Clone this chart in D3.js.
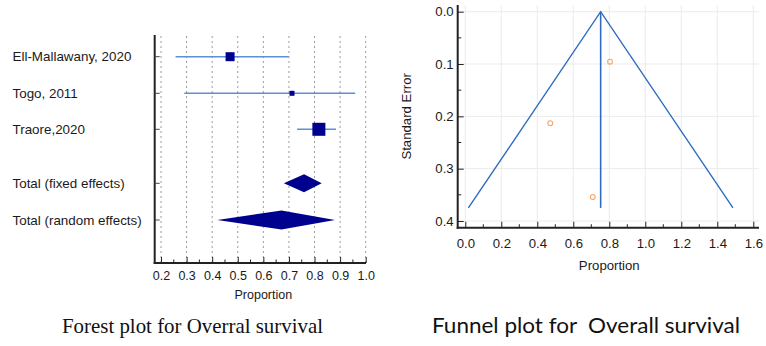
<!DOCTYPE html>
<html><head><meta charset="utf-8">
<script src="https://cdn.jsdelivr.net/npm/d3@7"></script>
<style>body{margin:0;background:#fff}svg{display:block}</style>
</head><body>
<script>
// Forest plot data
const studies = ["Ell-Mallawany, 2020", "Togo, 2011", "Traore,2020", "Total (fixed effects)", "Total (random effects)"];
const estimates = [0.47, 0.712, 0.817, 0.759, 0.671];
const lowerCI = [0.257, 0.291, 0.732, 0.680, 0.420];
const upperCI = [0.699, 0.959, 0.884, 0.828, 0.880];
const weights = [9, 5, 13, 0, 0];          // marker size (relative weight)
const isPooled = [false, false, false, true, true];
const forestTicks = [0.2, 0.3, 0.4, 0.5, 0.6, 0.7, 0.8, 0.9, 1.0];

// Funnel plot data
const funnelProp = [0.804, 0.472, 0.708];
const funnelSE = [0.0956, 0.213, 0.354];
const pooledProp = 0.752;
const maxSE = 0.375;
const funnelXTicks = [0.0, 0.2, 0.4, 0.6, 0.8, 1.0, 1.2, 1.4, 1.6];
const funnelYTicks = [0.0, 0.1, 0.2, 0.3, 0.4];

const W = 766, H = 346;
const svg = d3.select("body").append("svg").attr("width", W).attr("height", H)
  .style("font-family", "Liberation Sans, Arial, sans-serif");

// ---------------- Forest plot ----------------
const fx = d3.scaleLinear().domain([0.2, 1.0]).range([161, 365.7]);
const fyPos = [56.7, 93.3, 129.3, 183.3, 220];
const fy = d3.scaleOrdinal().domain(studies).range(fyPos);
const fTop = 35, fBottom = 263, fLeft = 154.7, fRight = 366;

const fg = svg.append("g");
// dotted gridlines
fg.selectAll("line.grid").data(forestTicks).enter().append("line")
  .attr("x1", d => fx(d)).attr("x2", d => fx(d))
  .attr("y1", fTop + 1).attr("y2", fBottom)
  .attr("stroke", "#9a9a9a").attr("stroke-width", 1).attr("stroke-dasharray", "2,3");

// axes lines
fg.append("line").attr("x1", fLeft).attr("x2", fLeft).attr("y1", fTop).attr("y2", fBottom + 1)
  .attr("stroke", "#222").attr("stroke-width", 2);
fg.append("line").attr("x1", fLeft - 1).attr("x2", fRight).attr("y1", fBottom).attr("y2", fBottom)
  .attr("stroke", "#222").attr("stroke-width", 2);

// x ticks
const fxAxis = d3.axisBottom(fx).tickValues(forestTicks).tickFormat(d3.format(".1f")).tickSize(-6).tickSizeOuter(0);
const fxa = fg.append("g").attr("transform", `translate(0,${fBottom})`).call(fxAxis);
fxa.select(".domain").remove();
fxa.selectAll(".tick line").attr("stroke", "#222");
fxa.selectAll(".tick text").attr("y", 8).attr("font-size", 12.5).attr("fill", "#1a1a1a")
  .attr("font-family", "Liberation Sans, Arial, sans-serif");
// minor ticks
const fMinor = d3.range(0.25, 1.0, 0.1);
fg.selectAll("line.minor").data(fMinor).enter().append("line")
  .attr("x1", d => fx(d)).attr("x2", d => fx(d)).attr("y1", fBottom).attr("y2", fBottom - 3.5)
  .attr("stroke", "#222");

// y ticks (rows)
fg.selectAll("line.ytick").data(studies).enter().append("line")
  .attr("x1", fLeft).attr("x2", fLeft + 5).attr("y1", d => fy(d)).attr("y2", d => fy(d))
  .attr("stroke", "#444");

// labels
fg.selectAll("text.lab").data(studies).enter().append("text")
  .attr("x", 12.5).attr("y", d => fy(d)).attr("dy", "0.35em")
  .attr("font-size", 13.4).attr("fill", "#1a1a1a").text(d => d);

// CI lines and squares
studies.forEach((s, i) => {
  const y = fy(s);
  if (!isPooled[i]) {
    fg.append("line").attr("x1", fx(lowerCI[i])).attr("x2", fx(upperCI[i]))
      .attr("y1", y).attr("y2", y).attr("stroke", "#5b8fd6").attr("stroke-width", 1.6);
    const sz = weights[i];
    fg.append("rect").attr("x", fx(estimates[i]) - sz / 2).attr("y", y - sz / 2)
      .attr("width", sz).attr("height", sz).attr("fill", "#00008f");
  } else {
    const h = i === 3 ? 9 : 9.5;
    const pts = [[fx(lowerCI[i]), y], [fx(estimates[i]), y - h], [fx(upperCI[i]), y], [fx(estimates[i]), y + h]];
    fg.append("path").attr("d", d3.line()(pts) + "Z").attr("fill", "#00008f");
  }
});

fg.append("text").attr("x", (fx(0.2) + fx(1.0)) / 2).attr("y", 299)
  .attr("text-anchor", "middle").attr("font-size", 12.5).attr("fill", "#1a1a1a").text("Proportion");

// ---------------- Funnel plot ----------------
const ux = d3.scaleLinear().domain([0, 1.6]).range([465.3, 753.3]);
const uy = d3.scaleLinear().domain([0, 0.4]).range([11.7, 221]);
const uLeft = 457.7, uRight = 759, uTop = 5, uBottom = 227.7;
const ug = svg.append("g");

// gridlines
ug.selectAll("line.vg").data(funnelXTicks).enter().append("line")
  .attr("x1", d => ux(d)).attr("x2", d => ux(d)).attr("y1", uTop).attr("y2", uBottom)
  .attr("stroke", "#ebebeb");
ug.selectAll("line.hg").data(funnelYTicks).enter().append("line")
  .attr("x1", uLeft).attr("x2", uRight).attr("y1", d => uy(d)).attr("y2", d => uy(d))
  .attr("stroke", "#ebebeb");

// axes
ug.append("line").attr("x1", uLeft).attr("x2", uLeft).attr("y1", uTop).attr("y2", uBottom + 1)
  .attr("stroke", "#222").attr("stroke-width", 2);
ug.append("line").attr("x1", uLeft - 1).attr("x2", uRight).attr("y1", uBottom).attr("y2", uBottom)
  .attr("stroke", "#222").attr("stroke-width", 2);

const uxAxis = d3.axisBottom(ux).tickValues(funnelXTicks).tickFormat(d3.format(".1f")).tickSize(-6).tickSizeOuter(0);
const uxa = ug.append("g").attr("transform", `translate(0,${uBottom})`).call(uxAxis);
uxa.select(".domain").remove();
uxa.selectAll(".tick line").attr("stroke", "#222");
uxa.selectAll(".tick text").attr("y", 11).attr("font-size", 13.2).attr("fill", "#1a1a1a")
  .attr("font-family", "Liberation Sans, Arial, sans-serif");
ug.selectAll("line.xminor").data(d3.range(0.1, 1.6, 0.2)).enter().append("line")
  .attr("x1", d => ux(d)).attr("x2", d => ux(d)).attr("y1", uBottom).attr("y2", uBottom - 3.5)
  .attr("stroke", "#222");

const uyAxis = d3.axisLeft(uy).tickValues(funnelYTicks).tickFormat(d3.format(".1f")).tickSize(-6).tickSizeOuter(0);
const uya = ug.append("g").attr("transform", `translate(${uLeft},0)`).call(uyAxis);
uya.select(".domain").remove();
uya.selectAll(".tick line").attr("stroke", "#222");
uya.selectAll(".tick text").attr("x", -4).attr("font-size", 13.2).attr("fill", "#1a1a1a")
  .attr("font-family", "Liberation Sans, Arial, sans-serif");
ug.selectAll("line.yminor").data([0.05, 0.15, 0.25, 0.35]).enter().append("line")
  .attr("x1", uLeft).attr("x2", uLeft + 3.5).attr("y1", d => uy(d)).attr("y2", d => uy(d))
  .attr("stroke", "#222");

// funnel lines
const lineCol = "#2f6cc0";
const funnel = [[pooledProp - 1.96 * maxSE, maxSE], [pooledProp, 0], [pooledProp + 1.96 * maxSE, maxSE]];
ug.append("path").attr("d", d3.line().x(d => ux(d[0])).y(d => uy(d[1]))(funnel))
  .attr("fill", "none").attr("stroke", lineCol).attr("stroke-width", 1.4);
ug.append("line").attr("x1", ux(pooledProp)).attr("x2", ux(pooledProp))
  .attr("y1", uy(0)).attr("y2", uy(maxSE)).attr("stroke", lineCol).attr("stroke-width", 1.6);

// points
ug.selectAll("circle").data(funnelProp).enter().append("circle")
  .attr("cx", d => ux(d)).attr("cy", (d, i) => uy(funnelSE[i])).attr("r", 2.4)
  .attr("fill", "none").attr("stroke", "#f4a46b").attr("stroke-width", 1.1);

ug.append("text").attr("x", ux(0.8)).attr("y", 270).attr("text-anchor", "middle")
  .attr("font-size", 13.2).attr("fill", "#1a1a1a").text("Proportion");
ug.append("text").attr("transform", `translate(411,${uy(0.2)}) rotate(-90)`)
  .attr("text-anchor", "middle").attr("font-size", 13.2).attr("fill", "#1a1a1a").text("Standard Error");

// captions
svg.append("text").attr("x", 62).attr("y", 333)
  .attr("font-family", "Liberation Serif, Times New Roman, serif").attr("font-size", 21).attr("fill", "#111")
  .attr("textLength", 261).attr("lengthAdjust", "spacingAndGlyphs")
  .text("Forest plot for Overral survival");
svg.append("text").attr("x", 432).attr("y", 333)
  .attr("font-family", "Lato, Carlito, sans-serif").attr("font-size", 21).attr("fill", "#111")
  .style("white-space", "pre")
  .attr("textLength", 308).attr("lengthAdjust", "spacingAndGlyphs")
  .text("Funnel plot for  Overall survival");
</script>
</body></html>
